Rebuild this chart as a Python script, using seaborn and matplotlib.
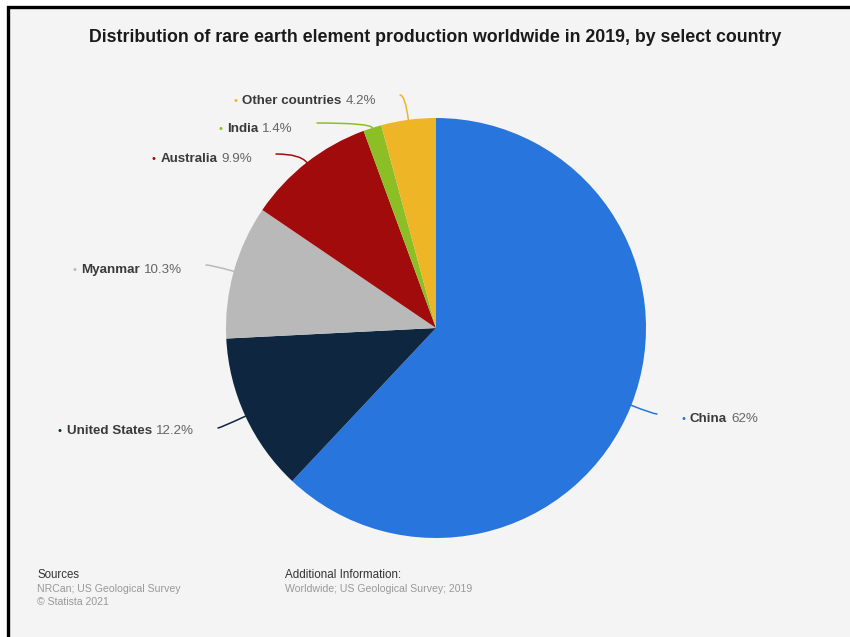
import numpy as np
import matplotlib
matplotlib.use("Agg")
import matplotlib.pyplot as plt
import seaborn as sns
from matplotlib.patches import Rectangle

# ---- data ----
countries = ["China", "United States", "Myanmar", "Australia", "India", "Other countries"]
shares = [62, 12.2, 10.3, 9.9, 1.4, 4.2]
share_labels = ["62%", "12.2%", "10.3%", "9.9%", "1.4%", "4.2%"]
colors_hex = ["#2876dd", "#0f2640", "#b9b9b9", "#a20b0b", "#8cbf26", "#eeb526"]

title = "Distribution of rare earth element production worldwide in 2019, by select country"
sources_head = "Sources"
sources_lines = ["NRCan; US Geological Survey", "\u00a9 Statista 2021"]
info_head = "Additional Information:"
info_lines = ["Worldwide; US Geological Survey; 2019"]

# ---- layout (pixels) ----
W, H = 850, 637
label_anchor_px = [(657, 414), (218, 428), (206, 265), (276, 154), (317, 123), (400, 95)]
label_dy = [5, 3, 5, 5, 6, 6]
cx, cy, R = 436, 328, 210

sns.set_theme(style="white")
plt.rcParams['font.family'] = ['Liberation Sans', 'DejaVu Sans']
palette = sns.color_palette(colors_hex)

fig = plt.figure(figsize=(W / 100, H / 100), dpi=100)
fig.patch.set_facecolor('white')


def F(px, py):
    return px / W, 1 - py / H


bg = Rectangle((8 / W, -0.05), 1.2, 1.05 - 7 / H, transform=fig.transFigure,
               facecolor='#f4f4f4', edgecolor='black', lw=2.4, zorder=-10)
fig.patches.append(bg)

ax = fig.add_axes([(cx - R) / W, (H - cy - R) / H, 2 * R / W, 2 * R / H])
wedges, _ = ax.pie(shares, colors=palette, startangle=90, counterclock=False,
                   wedgeprops=dict(linewidth=0))
ax.set_xlim(-1, 1)
ax.set_ylim(-1, 1)
ax.axis('off')

fig.text(*F(435, 38), title, ha='center', va='center', fontsize=12.8,
         fontweight='bold', color='#1a1a1a')

renderer = fig.canvas.get_renderer()
name_color = '#3a3a3a'
val_color = '#666666'
fs = 9.6

for i, w in enumerate(wedges):
    mid = (w.theta1 + w.theta2) / 2
    th = np.deg2rad(mid)
    ex, ey = np.cos(th), np.sin(th)
    lx, ly = label_anchor_px[i]
    ax.annotate("", xy=(ex, ey), xycoords='data',
                xytext=F(lx, ly), textcoords='figure fraction',
                arrowprops=dict(arrowstyle='-', color=palette[i], lw=1.1,
                                shrinkA=0, shrinkB=0,
                                connectionstyle=f"angle3,angleA=0,angleB={mid % 180:.2f}"),
                annotation_clip=False)
    ty = ly + label_dy[i]
    if lx > cx:
        dot_x = lx + 26
        fig.text(*F(dot_x, ty), "\u2022", ha='center', va='center', fontsize=8, color=palette[i])
        t1 = fig.text(*F(dot_x + 7, ty), countries[i], ha='left', va='center',
                      fontsize=fs, fontweight='bold', color=name_color)
        wdt = t1.get_window_extent(renderer).width
        fig.text(*F(dot_x + 7 + wdt + 4, ty), share_labels[i], ha='left', va='center',
                 fontsize=fs, color=val_color)
    else:
        end_x = lx - 24
        t2 = fig.text(*F(end_x, ty), share_labels[i], ha='right', va='center',
                      fontsize=fs, color=val_color)
        w2 = t2.get_window_extent(renderer).width
        t1 = fig.text(*F(end_x - w2 - 4, ty), countries[i], ha='right', va='center',
                      fontsize=fs, fontweight='bold', color=name_color)
        w1 = t1.get_window_extent(renderer).width
        fig.text(*F(end_x - w2 - 4 - w1 - 7, ty), "\u2022", ha='center', va='center',
                 fontsize=8, color=palette[i])

fig.text(*F(37, 575), sources_head, ha='left', va='center', fontsize=8.3, color='#333333')
for k, s in enumerate(sources_lines):
    fig.text(*F(37, 589 + 13 * k), s, ha='left', va='center', fontsize=7.6, color='#999999')
fig.text(*F(285, 575), info_head, ha='left', va='center', fontsize=8.4, color='#333333')
for k, s in enumerate(info_lines):
    fig.text(*F(285, 589 + 13 * k), s, ha='left', va='center', fontsize=7.6, color='#999999')

fig.savefig("out.png", dpi=100, facecolor=fig.get_facecolor())
